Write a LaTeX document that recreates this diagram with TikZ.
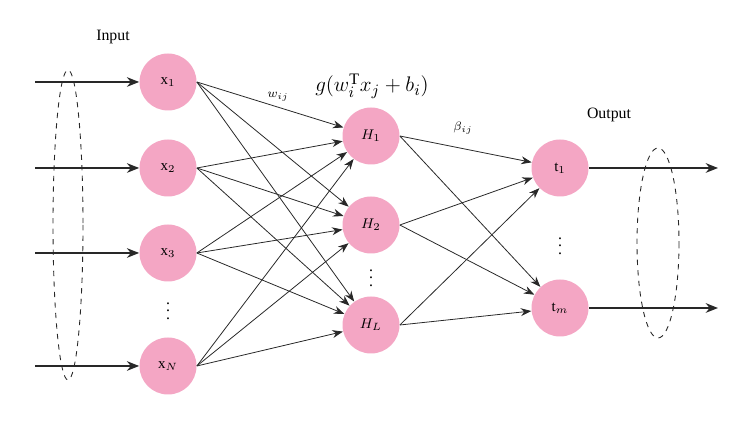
\documentclass[tikz,border=0pt]{standalone}
\usepackage{fontspec}
\setmainfont{Liberation Serif}
\usetikzlibrary{arrows.meta}
\definecolor{neuron}{RGB}{244,166,196}
\definecolor{edgecol}{RGB}{40,40,40}
\tikzset{
  neuron/.style={circle,fill=neuron,draw=none,minimum size=1.14cm,inner sep=0pt,font=\fontsize{8.5}{9}\selectfont},
  conn/.style={draw=edgecol,line width=0.45pt,-{Stealth[length=6pt,width=4.5pt]}},
  ioarrow/.style={draw=edgecol,line width=0.75pt,-{Stealth[length=7pt,width=5.5pt]}},
  grp/.style={draw=edgecol,dashed,line width=0.5pt},
  lbl/.style={font=\fontsize{9}{10}\selectfont},
  vdots/.style={font=\fontsize{9}{10}\selectfont,inner sep=0pt}
}
\begin{document}
\begin{tikzpicture}[x=0.02cm,y=-0.02cm]
\useasboundingbox[fill=white] (0,0) rectangle (751,421);
% input nodes
\node[neuron] (x1) at (168,82) {x$_1$};
\node[neuron] (x2) at (168,168) {x$_2$};
\node[neuron] (x3) at (168,253) {x$_3$};
\node[neuron] (xN) at (168,366) {x$_N$};
\node[vdots] (xd) at (168,306) {$\vdots$};
% hidden nodes
\node[neuron] (H1) at (371,136) {$H_1$};
\node[neuron] (H2) at (371,225) {$H_2$};
\node[neuron] (HL) at (371,325) {$H_L$};
\node[vdots] (Hd) at (371,273) {$\vdots$};
% output nodes
\node[neuron] (t1) at (560,168) {t$_1$};
\node[neuron] (tm) at (560,308) {t$_m$};
\node[vdots] (td) at (560,241) {$\vdots$};
% labels
\node[lbl] (inl) at (113,37) {Input};
\node[lbl] (outl) at (609,115) {Output};
\node[font=\fontsize{13}{14}\selectfont,inner sep=1pt] (gl) at (372,86) {$g(w_{i}^{\mathrm{T}}x_{j}+b_{i})$};
\node[font=\fontsize{7}{8}\selectfont] (wl) at (278,97) {$w_{ij}$};
\node[font=\fontsize{7}{8}\selectfont] (bl) at (463,128) {$\beta_{ij}$};
% input arrows
\foreach \n/\y in {x1/82,x2/168,x3/253,xN/366}{
  \coordinate (in\n) at (35,\y);
  \draw[ioarrow] (in\n) -- (\n);
}
\draw[grp] (68,225) ellipse [x radius=15, y radius=155];
% hidden connections
\foreach \a in {x1,x2,x3,xN}{
  \foreach \b in {H1,H2,HL}{
    \draw[conn] (\a.east) -- (\b);
  }
}
\foreach \a in {H1,H2,HL}{
  \foreach \b in {t1,tm}{
    \draw[conn] (\a.east) -- (\b);
  }
}
% output arrows
\coordinate (o1) at (718,168);
\coordinate (om) at (718,308);
\draw[ioarrow] (t1.east) -- (o1);
\draw[ioarrow] (tm.east) -- (om);
\draw[grp] (658,243) ellipse [x radius=21, y radius=95];
\end{tikzpicture}
\end{document}
